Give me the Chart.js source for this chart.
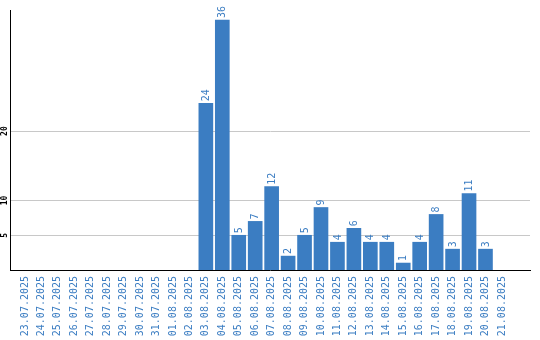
<!DOCTYPE html>
<html>
<head>
<meta charset="utf-8">
<script src="https://cdn.jsdelivr.net/npm/chart.js@4/dist/chart.umd.min.js"></script>
<style>
html,body{margin:0;padding:0;background:#fff;}
#wrap{width:540px;height:340px;position:relative;}
</style>
</head>
<body>
<div id="wrap"><canvas id="c" width="540" height="340"></canvas></div>
<script>
const categories = ["23.07.2025","24.07.2025","25.07.2025","26.07.2025","27.07.2025","28.07.2025","29.07.2025","30.07.2025","31.07.2025","01.08.2025","02.08.2025","03.08.2025","04.08.2025","05.08.2025","06.08.2025","07.08.2025","08.08.2025","09.08.2025","10.08.2025","11.08.2025","12.08.2025","13.08.2025","14.08.2025","15.08.2025","16.08.2025","17.08.2025","18.08.2025","19.08.2025","20.08.2025","21.08.2025"];
const values = [null,null,null,null,null,null,null,null,null,null,null,24,36,5,7,12,2,5,9,4,6,4,4,1,4,8,3,11,3,null];
const yTicks = [5,10,20];

const BLUE = '#3b7dc2';

const labelPlugin = {
  id: 'labels',
  afterDatasetsDraw(chart) {
    const ctx = chart.ctx;
    const meta = chart.getDatasetMeta(0);
    ctx.save();
    ctx.fillStyle = BLUE;
    ctx.font = '10px "DejaVu Sans Mono"';
    ctx.textAlign = 'left';
    ctx.textBaseline = 'middle';
    meta.data.forEach((bar, i) => {
      const v = values[i];
      if (v === null || v === undefined) return;
      ctx.save();
      ctx.translate(bar.x + 0.5, bar.y - 2);
      ctx.rotate(-Math.PI / 2);
      ctx.fillText(String(v), 0, 0);
      ctx.restore();
    });
    const ys = chart.scales.y;
    ctx.fillStyle = '#000';
    ctx.font = 'bold 8px "DejaVu Sans Mono"';
    ctx.textAlign = 'center';
    yTicks.forEach(t => {
      const y = ys.getPixelForValue(t);
      ctx.save();
      ctx.translate(5, y);
      ctx.rotate(-Math.PI / 2);
      ctx.fillText(String(t), 0, 0);
      ctx.restore();
    });
    ctx.restore();
  }
};

new Chart(document.getElementById('c'), {
  type: 'bar',
  data: {
    datasets: [{
      data: values.map((v, i) => ({x: i, y: v})),
      backgroundColor: BLUE,
      borderWidth: 0,
      barThickness: 14
    }]
  },
  options: {
    responsive: false,
    animation: false,
    layout: {padding: {top: 10, right: 10, left: 0, bottom: 0}},
    plugins: {legend: {display: false}, tooltip: {enabled: false}},
    scales: {
      x: {
        type: 'linear',
        min: -0.38,
        max: 30.18,
        grid: {color: 'rgba(0,0,0,0)', drawTicks: false},
        border: {display: true, color: '#000', width: 1},
        afterBuildTicks(s) { s.ticks = categories.map((_, i) => ({value: i})); },
        afterFit(s) { s.height = 70; },
        ticks: {
          autoSkip: false,
          minRotation: 90,
          maxRotation: 90,
          padding: 6,
          color: BLUE,
          font: {family: '"DejaVu Sans Mono"', size: 10},
          callback: (v) => categories[v]
        }
      },
      y: {
        min: 0,
        max: 37.44,
        grid: {color: '#c8c8c8', drawTicks: false, lineWidth: 1},
        border: {display: true, color: '#000', width: 1},
        afterBuildTicks(s) { s.ticks = yTicks.map(v => ({value: v})); },
        afterFit(s) { s.width = 10; },
        ticks: {display: false}
      }
    }
  },
  plugins: [labelPlugin]
});
</script>
</body>
</html>
